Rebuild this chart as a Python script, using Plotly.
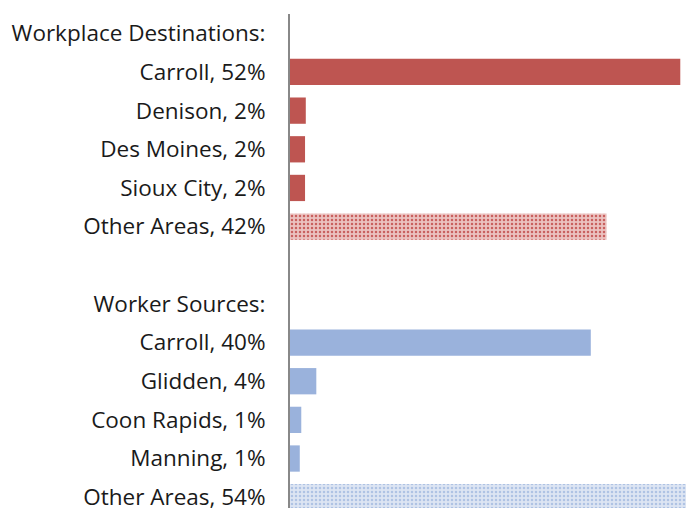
import plotly.graph_objects as go

# rows from top to bottom
labels = [
    "Workplace Destinations:",
    "Carroll, 52%",
    "Denison, 2%",
    "Des Moines, 2%",
    "Sioux City, 2%",
    "Other Areas, 42%",
    " ",
    "Worker Sources:",
    "Carroll, 40%",
    "Glidden, 4%",
    "Coon Rapids, 1%",
    "Manning, 1%",
    "Other Areas, 54%",
]

dest_labels = labels[1:5]
dest_values = [51.9, 2.1, 2.0, 2.0]
dest_other_label = labels[5]
dest_other_value = 42.1

src_labels = labels[8:12]
src_values = [40.0, 3.5, 1.5, 1.3]
src_other_label = labels[12]
src_other_value = 54.0

RED = "#BE5551"
BLUE = "#9AB2DC"

fig = go.Figure()

# solid bars
fig.add_trace(go.Bar(y=dest_labels, x=dest_values, orientation="h",
                     marker=dict(color=RED, line=dict(width=0))))
fig.add_trace(go.Bar(y=src_labels, x=src_values, orientation="h",
                     marker=dict(color=BLUE, line=dict(width=0))))

# "other areas" bars with checker pattern
fig.add_trace(go.Bar(y=[dest_other_label], x=[dest_other_value], orientation="h",
                     marker=dict(color="#E6B2B0", line=dict(width=0),
                                 pattern=dict(shape=".", fgcolor="#C9615E", bgcolor="#EBC2C0",
                                              size=4, solidity=0.3, fillmode="replace"))))
fig.add_trace(go.Bar(y=[src_other_label], x=[src_other_value], orientation="h",
                     marker=dict(color="#D2DDF0", line=dict(width=0),
                                 pattern=dict(shape=".", fgcolor="#AFC3E4", bgcolor="#DDE5F3",
                                              size=4, solidity=0.3, fillmode="replace"))))

fig.update_layout(
    width=686,
    height=512,
    margin=dict(l=290, r=0, t=13.5, b=0),
    paper_bgcolor="white",
    plot_bgcolor="white",
    showlegend=False,
    barmode="overlay",
    bargap=0.32,
    font=dict(family="Open Sans, Calibri, sans-serif", size=22.5, color="#1a1a1a"),
)

fig.update_xaxes(range=[0, 52.66], visible=False, showgrid=False, zeroline=False)
fig.update_yaxes(
    type="category",
    categoryorder="array",
    categoryarray=labels,
    range=[12.28, -0.5],
    showgrid=False,
    zeroline=False,
    showline=True,
    linecolor="#888888",
    linewidth=2,
    ticks="",
    ticklabelstandoff=18,
)

fig.write_html("out.html", config={"displayModeBar": False},
               post_script="document.body.style.margin='0';")
